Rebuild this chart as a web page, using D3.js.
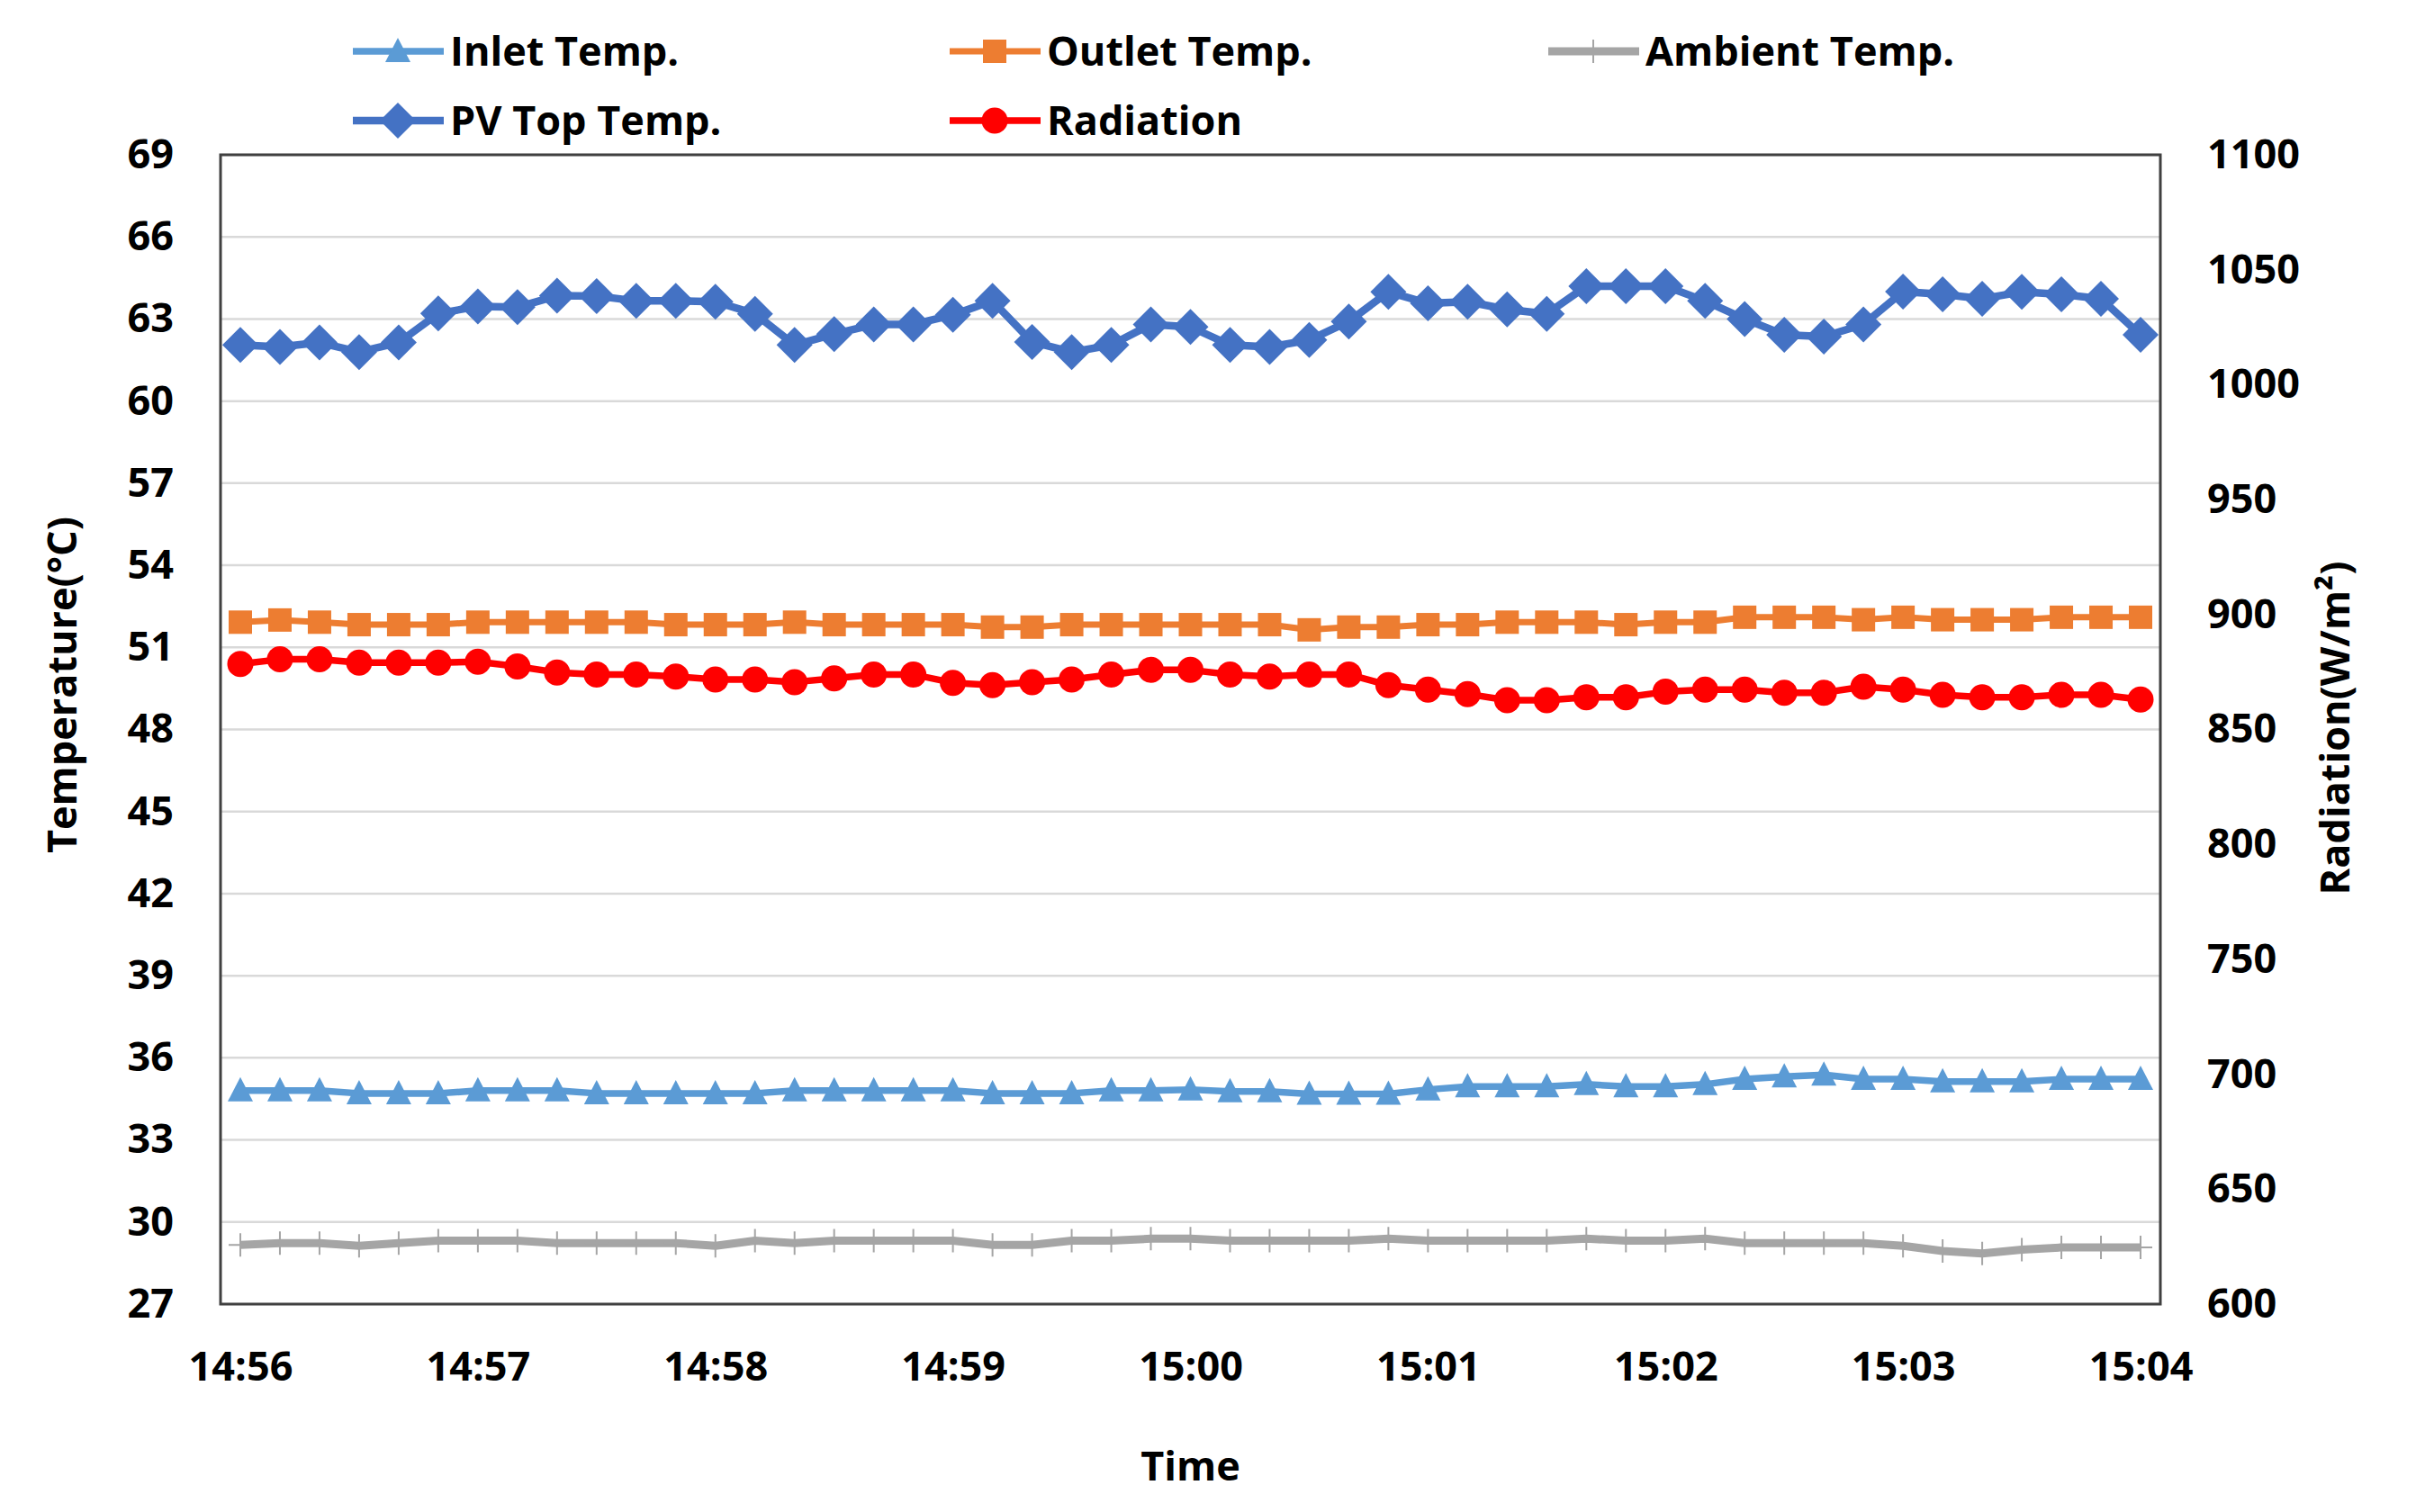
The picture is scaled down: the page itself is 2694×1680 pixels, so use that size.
<!DOCTYPE html>
<html>
<head>
<meta charset="utf-8">
<script src="https://cdn.jsdelivr.net/npm/d3@7"></script>
<style>
  body { margin: 0; background: #fff; }
  text { font-family: "Open Sans", "Liberation Sans", sans-serif; font-weight: 700; fill: #000; }
</style>
</head>
<body>
<div class="chart"></div>
<script>
const times = ['14:56:00','14:56:10','14:56:20','14:56:30','14:56:40','14:56:50',
  '14:57:00','14:57:10','14:57:20','14:57:30','14:57:40','14:57:50',
  '14:58:00','14:58:10','14:58:20','14:58:30','14:58:40','14:58:50',
  '14:59:00','14:59:10','14:59:20','14:59:30','14:59:40','14:59:50',
  '15:00:00','15:00:10','15:00:20','15:00:30','15:00:40','15:00:50',
  '15:01:00','15:01:10','15:01:20','15:01:30','15:01:40','15:01:50',
  '15:02:00','15:02:10','15:02:20','15:02:30','15:02:40','15:02:50',
  '15:03:00','15:03:10','15:03:20','15:03:30','15:03:40','15:03:50','15:04:00'];
const timeTicks = ['14:56','14:57','14:58','14:59','15:00','15:01','15:02','15:03','15:04'];
const tempTicks = [27,30,33,36,39,42,45,48,51,54,57,60,63,66,69];
const radTicks = [600,650,700,750,800,850,900,950,1000,1050,1100];

const inlet = [34.8,34.8,34.8,34.7,34.7,34.7,34.8,34.8,34.8,34.7,34.7,34.7,34.7,34.7,34.8,34.8,34.8,34.8,34.8,34.7,34.7,34.7,34.8,34.8,
  34.84,34.77,34.77,34.68,34.68,34.68,34.84,34.95,34.95,34.95,35.03,34.95,34.95,35.03,35.22,35.31,35.38,35.22,35.22,35.13,35.13,35.13,35.22,35.22,35.22];
const outlet = [51.92,52.0,51.92,51.83,51.83,51.83,51.92,51.92,51.92,51.92,51.92,51.83,51.83,51.83,51.92,51.83,51.83,
  51.83,51.83,51.74,51.74,51.83,51.83,51.83,51.83,51.83,51.83,51.64,51.74,51.74,51.83,51.83,51.92,51.92,51.92,
  51.83,51.92,51.92,52.1,52.1,52.1,52.01,52.1,52.01,52.01,52.01,52.1,52.1,52.1];
const ambient = [29.16,29.23,29.23,29.13,29.23,29.32,29.32,29.32,29.23,29.23,29.23,29.23,29.13,29.32,29.23,29.32,29.32,29.32,29.32,29.16,29.16,29.32,29.32,29.39,
  29.39,29.32,29.32,29.32,29.32,29.39,29.32,29.32,29.32,29.32,29.39,29.32,29.32,29.39,29.23,29.23,29.23,29.23,29.13,28.94,28.85,28.99,29.07,29.07,29.07];
const pvTop = [62.05,61.98,62.14,61.79,62.14,63.2,63.46,63.43,63.85,63.84,63.66,63.66,63.63,63.19,62.05,
  62.45,62.8,62.8,63.15,63.66,62.16,61.79,62.05,62.8,62.71,62.05,61.98,62.23,62.91,63.99,63.57,
  63.63,63.35,63.19,64.2,64.2,64.2,63.66,63.0,62.42,62.36,62.8,64.0,63.9,63.74,63.99,63.9,63.74,62.42];
const radiation = [878.5,880.5,880.5,879.1,879.1,879.1,879.5,877.4,874.8,873.9,873.9,873.0,871.7,871.7,870.6,872.2,873.9,
  873.9,870.3,869.3,870.6,871.7,873.9,875.9,875.9,873.9,873.0,873.9,873.9,869.3,867.3,865.4,862.7,862.7,864.0,
  864.0,866.4,867.3,867.3,866.0,866.0,868.6,867.3,865.1,864.0,864.0,865.1,865.1,863.0];

const width = 2694, height = 1680;
const pLeft = 245, pRight = 2400, pTop = 172, pBottom = 1449;
const fs = 45;

const svg = d3.select('.chart').append('svg')
  .attr('width', width)
  .attr('height', height);

const x = d3.scalePoint().domain(d3.range(times.length)).range([pLeft, pRight]).padding(0.5);
const yT = d3.scaleLinear().domain([27, 69]).range([pBottom, pTop]);
const yR = d3.scaleLinear().domain([600, 1100]).range([pBottom, pTop]);

// gridlines
svg.append('g').selectAll('line')
  .data(tempTicks)
  .enter().append('line')
  .attr('x1', pLeft).attr('x2', pRight)
  .attr('y1', d => yT(d)).attr('y2', d => yT(d))
  .attr('stroke', '#d9d9d9')
  .attr('stroke-width', 2.5);

svg.append('rect')
  .attr('x', pLeft).attr('y', pTop)
  .attr('width', pRight - pLeft).attr('height', pBottom - pTop)
  .attr('fill', 'none')
  .attr('stroke', '#404040')
  .attr('stroke-width', 3);

// axes
const axL = svg.append('g').attr('transform', `translate(${pLeft},0)`)
  .call(d3.axisLeft(yT).tickValues(tempTicks).tickSize(0).tickPadding(pLeft - 193));
const axR = svg.append('g').attr('transform', `translate(${pRight},0)`)
  .call(d3.axisRight(yR).tickValues(radTicks).tickFormat(d3.format('d')).tickSize(0).tickPadding(2452 - pRight));
const axB = svg.append('g').attr('transform', `translate(0,${pBottom})`)
  .call(d3.axisBottom(x).tickValues(d3.range(0, times.length, 6))
    .tickFormat((d, i) => timeTicks[i]).tickSize(0).tickPadding(53));
[axL, axR, axB].forEach(g => {
  g.select('.domain').remove();
  g.selectAll('text').attr('font-size', fs).attr('font-family', null).attr('fill', '#000');
});

svg.append('text')
  .attr('x', (pLeft + pRight) / 2).attr('y', 1629).attr('dy', '0.35em')
  .attr('text-anchor', 'middle').attr('font-size', fs)
  .text('Time');
svg.append('text')
  .attr('transform', 'translate(69,761) rotate(-90)').attr('dy', '0.35em')
  .attr('text-anchor', 'middle').attr('font-size', fs)
  .text('Temperature(°C)');
svg.append('text')
  .attr('transform', 'translate(2594,809) rotate(-90)').attr('dy', '0.35em')
  .attr('text-anchor', 'middle').attr('font-size', fs)
  .text('Radiation(W/m²)');

// marker shapes
function marker(g, type, color) {
  if (type === 'diamond') {
    g.append('path').attr('d', 'M0,-20L20,0L0,20L-20,0Z').attr('fill', color);
  } else if (type === 'square') {
    g.append('rect').attr('x', -13).attr('y', -13).attr('width', 26).attr('height', 26).attr('fill', color);
  } else if (type === 'circle') {
    g.append('circle').attr('r', 14.5).attr('fill', color);
  } else if (type === 'triangle') {
    g.append('path').attr('d', 'M0,-15L14,12L-14,12Z').attr('fill', color);
  } else if (type === 'plus') {
    g.append('path').attr('d', 'M0,-13V13M-13,0H13').attr('stroke', color).attr('stroke-width', 2);
  }
}

const series = [
  {name: 'Inlet Temp.', values: inlet, y: yT, color: '#5b9bd5', type: 'triangle', lw: 7.5},
  {name: 'Outlet Temp.', values: outlet, y: yT, color: '#ed7d31', type: 'square', lw: 7},
  {name: 'Ambient Temp.', values: ambient, y: yT, color: '#a5a5a5', type: 'plus', lw: 9},
  {name: 'PV Top Temp.', values: pvTop, y: yT, color: '#4472c4', type: 'diamond', lw: 8.5},
  {name: 'Radiation', values: radiation, y: yR, color: '#ff0000', type: 'circle', lw: 7.5}
];

series.forEach(s => {
  const line = d3.line().x((d, i) => x(i)).y(d => s.y(d));
  svg.append('path')
    .attr('d', line(s.values))
    .attr('fill', 'none')
    .attr('stroke', s.color)
    .attr('stroke-width', s.lw)
    .attr('stroke-linejoin', 'round');
  svg.append('g').selectAll('g')
    .data(s.values)
    .enter().append('g')
    .attr('transform', (d, i) => `translate(${x(i)},${s.y(d)})`)
    .each(function() { marker(d3.select(this), s.type, s.color); });
});

// legend
const legendPos = [[392, 57], [1055, 57], [1720, 57], [392, 134], [1055, 134]];
series.forEach((s, i) => {
  const [lx, ly] = legendPos[i];
  const g = svg.append('g').attr('transform', `translate(${lx},${ly})`);
  g.append('line').attr('x1', 0).attr('x2', 101)
    .attr('stroke', s.color).attr('stroke-width', s.lw);
  marker(g.append('g').attr('transform', 'translate(50,0)'), s.type, s.color);
  g.append('text').attr('x', 108).attr('dy', '0.35em')
    .attr('font-size', fs)
    .text(s.name);
});
</script>
</body>
</html>
